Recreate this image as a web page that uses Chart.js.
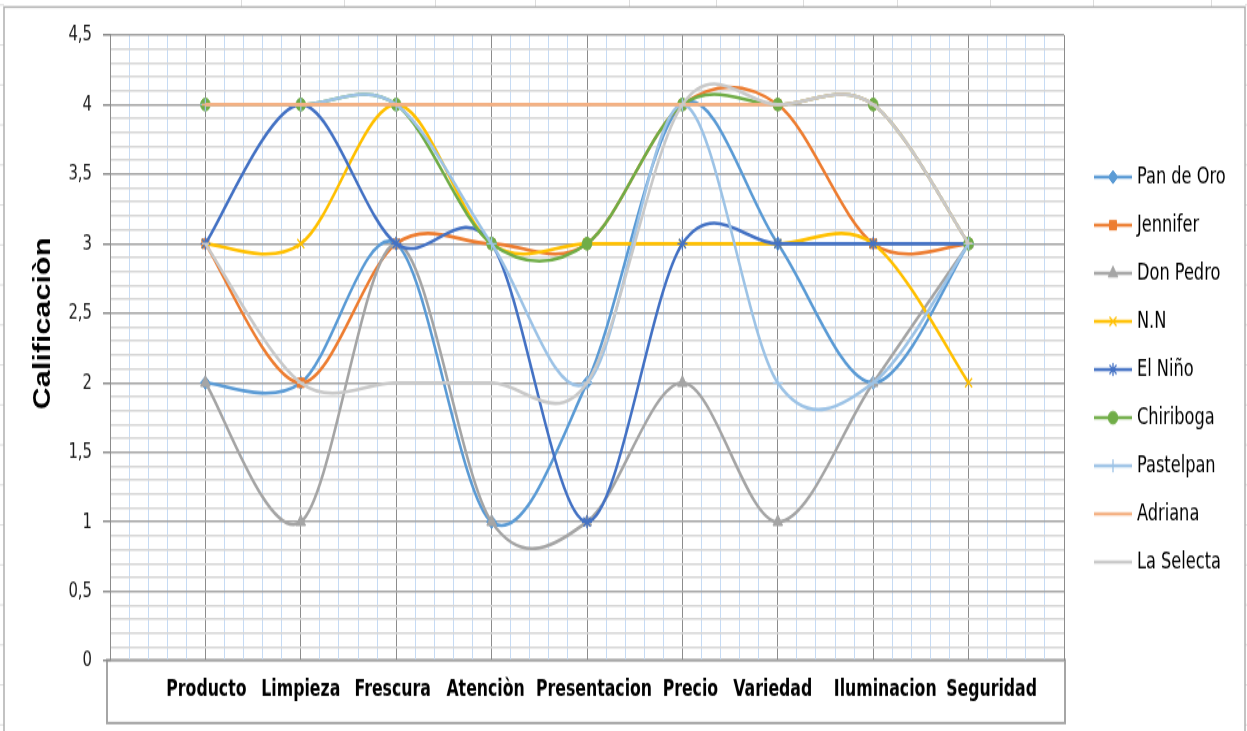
<!DOCTYPE html>
<html>
<head>
<meta charset="utf-8">
<script src="https://cdn.jsdelivr.net/npm/chart.js"></script>
<style>
  html, body { margin: 0; padding: 0; background: #fff; overflow: hidden; }
  canvas { display: block; }
</style>
</head>
<body>
<!-- drawn at 562px and shown at 731px: the sheet export is stretched vertically -->
<canvas id="chart" width="1247" height="562" style="width:1247px;height:731px"></canvas>
<script>
const categories = ['Producto', 'Limpieza', 'Frescura', 'Atenciòn', 'Presentacion', 'Precio', 'Variedad', 'Iluminacion', 'Seguridad'];
const seriesNames = ['Pan de Oro', 'Jennifer', 'Don Pedro', 'N.N', 'El Niño', 'Chiriboga', 'Pastelpan', 'Adriana', 'La Selecta'];

const panDeOro  = [2, 2, 3, 1, 2, 4, 3, 2, 3];
const jennifer  = [3, 2, 3, 3, 3, 4, 4, 3, 3];
const donPedro  = [2, 1, 3, 1, 1, 2, 1, 2, 3];
const nn        = [3, 3, 4, 3, 3, 3, 3, 3, 2];
const elNino    = [3, 4, 3, 3, 1, 3, 3, 3, 3];
const chiriboga = [4, 4, 4, 3, 3, 4, 4, 4, 3];
const pastelpan = [4, 4, 4, 3, 2, 4, 2, 2, 3];
const adriana   = [4, 4, 4, 4, 4, 4, 4, 4, 3];
const laSelecta = [3, 2, 2, 2, 2, 4, 4, 4, 3];

const yTicks = [0, 0.5, 1, 1.5, 2, 2.5, 3, 3.5, 4, 4.5];
const yTitle = 'Calificaciòn';

const seriesValues = [panDeOro, jennifer, donPedro, nn, elNino, chiriboga, pastelpan, adriana, laSelecta];

const palette = ['#5b9bd5', '#ed7d31', '#a5a5a5', '#ffc000', '#4472c4', '#70ad47', '#9dc3e6', '#f4b183', '#c9c9c9'];
const markers = ['rectRot', 'rect', 'triangle', 'crossRot', 'star', 'circle', 'cross', 'line', 'line'];
const markerSize = [5, 5, 5.5, 5, 5, 4.8, 5, 3.5, 3.5];
const markerBorder = [1, 1, 1, 1.3, 1.3, 1, 1.3, 1.5, 1.5];
// category names sit in a typed text box, so they drift a little off the gridlines
const labelShift = [1, 0, -3.5, -6, 7, 8, -5, 12, 23];

const narrow = '"Liberation Sans Narrow", "DejaVu Sans Condensed", "Liberation Sans", sans-serif';
const legendFontSize = 18;
const legendPad = 19;
const plotRight = 1064;

// legend geometry: line from 1094 to 1132, marker at 1113, text from 1137
const legX0 = plotRight + legendPad;
const legBox = 1137 - legendFontSize / 2 - legX0;
const legCx = legX0 + legBox / 2;
const iconW = 2 * (1132 - legCx);
const iconLeft = legCx - iconW / 2;

//--- Legend icons: a short line with the series marker in the middle.
function legendIcon(i) {
  const c = document.createElement('canvas');
  c.width = Math.ceil(iconW);
  c.height = 16;
  const g = c.getContext('2d');
  g.strokeStyle = palette[i];
  g.fillStyle = palette[i];
  g.lineWidth = 2.5;
  g.beginPath();
  g.moveTo(1094 - iconLeft, 8);
  g.lineTo(1132 - iconLeft, 8);
  g.stroke();
  g.lineWidth = markerBorder[i];
  Chart.helpers.drawPoint(g, { pointStyle: markers[i], radius: markerSize[i], borderWidth: markerBorder[i], rotation: 0 }, 1113 - iconLeft, 8);
  return c;
}

// right padding so the legend box starts exactly where the plot ends
const measure = document.createElement('canvas').getContext('2d');
measure.font = legendFontSize + 'px ' + narrow;
const longest = Math.max(...seriesNames.map(n => measure.measureText(n).width));
const legendWidth = legendPad + legBox + legendFontSize / 2 + longest + 10;
const padRight = 1247 - plotRight - legendWidth;

const isHalf = v => Math.abs(v * 2 - Math.round(v * 2)) < 1e-6;
const isWhole = v => Math.abs(v - Math.round(v)) < 1e-6;

//--- Excel-like smoothing: Catmull-Rom control points at 1/6 of the neighbour span.
const excelSmooth = {
  id: 'excelSmooth',
  beforeDatasetDraw(chart, args) {
    const meta = args.meta;
    const pts = meta.data;
    pts.forEach((pt, i) => {
      const prev = pts[i - 1] || pt;
      const next = pts[i + 1] || pt;
      const dx = (next.x - prev.x) / 6;
      const dy = (next.y - prev.y) / 6;
      pt.cp1x = pt.x - dx;
      pt.cp1y = pt.y - dy;
      pt.cp2x = pt.x + dx;
      pt.cp2y = pt.y + dy;
    });
    meta.dataset._pointsUpdated = true;
  }
};

//--- Nudge the category labels sideways.
const shiftLabels = {
  id: 'shiftLabels',
  beforeDraw(chart) {
    const scale = chart.scales.x;
    scale.getLabelItems(chart.chartArea).forEach(item => {
      const idx = categories.indexOf(item.label);
      if (idx >= 0 && !item._shifted) {
        item.options.translation[0] += labelShift[idx];
        item._shifted = true;
      }
    });
  }
};

//--- Worksheet behind the chart, chart frame and the category box.
const sheet = {
  id: 'sheet',
  beforeDraw(chart, args, opts) {
    const { ctx, width, height } = chart;
    ctx.save();
    ctx.fillStyle = '#fff';
    ctx.fillRect(0, 0, width, height);

    ctx.strokeStyle = '#dcdcdc';
    ctx.lineWidth = 1;
    opts.cellCols.forEach(x => {
      ctx.beginPath();
      ctx.moveTo(x + 0.5, 0);
      ctx.lineTo(x + 0.5, opts.frame.top);
      ctx.stroke();
    });
    for (let y = opts.rowStart; y < height; y += opts.rowStep) {
      ctx.beginPath();
      ctx.moveTo(0, y);
      ctx.lineTo(opts.frame.left, y);
      ctx.moveTo(opts.frame.right, y);
      ctx.lineTo(width, y);
      ctx.stroke();
    }

    ctx.strokeStyle = '#b0b0b0';
    ctx.lineWidth = 1.5;
    ctx.strokeRect(opts.frame.left, opts.frame.top, opts.frame.right - opts.frame.left, height);

    const b = opts.box;
    ctx.fillStyle = '#fff';
    ctx.fillRect(b.left, b.top, b.right - b.left, b.bottom - b.top);
    ctx.strokeStyle = '#a6a6a6';
    ctx.lineWidth = 2;
    ctx.strokeRect(b.left, b.top, b.right - b.left, b.bottom - b.top);
    ctx.restore();
  }
};

//--- Rotated y axis title.
const axisTitle = {
  id: 'axisTitle',
  afterDraw(chart, args, opts) {
    const { ctx } = chart;
    ctx.save();
    ctx.translate(opts.x, opts.y);
    ctx.rotate(-Math.PI / 2);
    ctx.font = opts.font;
    ctx.fillStyle = '#000';
    ctx.textAlign = 'center';
    ctx.textBaseline = 'alphabetic';
    ctx.fillText(opts.text, 0, 0);
    ctx.restore();
  }
};

const icons = seriesNames.map((n, i) => legendIcon(i));

const datasets = seriesNames.map((name, i) => ({
  label: name,
  data: categories.map((c, j) => ({ x: j, y: seriesValues[i][j] })),
  borderColor: palette[i],
  backgroundColor: palette[i],
  borderWidth: 2.6,
  borderJoinStyle: 'round',
  tension: 0.4,
  pointStyle: markers[i],
  pointRadius: markerSize[i],
  pointHoverRadius: markerSize[i],
  pointBorderWidth: markerBorder[i],
  order: -i
}));

new Chart(document.getElementById('chart'), {
  type: 'line',
  data: { datasets },
  options: {
    responsive: false,
    animation: false,
    devicePixelRatio: 1,
    events: [],
    layout: {
      padding: { top: 26.9, bottom: 20.7, left: 0, right: padRight }
    },
    scales: {
      x: {
        type: 'linear',
        min: -1,
        max: 9,
        afterFit(scale) { scale.height = 33.1; },
        border: { display: false },
        grid: {
          drawTicks: false,
          lineWidth: 1,
          color: c => isWhole(c.tick.value) ? '#8c8c8c' : '#c6dbf4'
        },
        ticks: {
          stepSize: 0.2,
          autoSkip: false,
          maxRotation: 0,
          minRotation: 0,
          padding: 11.8,
          color: '#000',
          font: { family: narrow, size: 17.5, weight: 'bold' },
          callback: v => (isWhole(v) && v > -0.5 && v < categories.length - 0.5) ? categories[Math.round(v)] : ''
        }
      },
      y: {
        min: 0,
        max: 4.5,
        afterFit(scale) { scale.width = 110; },
        border: { display: true, color: '#8c8c8c', width: 1 },
        grid: {
          tickLength: 7,
          lineWidth: 1.5,
          color: c => isHalf(c.tick.value) ? '#a3a3a3' : '#d6d6d6',
          tickColor: c => isHalf(c.tick.value) ? '#8c8c8c' : 'rgba(0,0,0,0)'
        },
        ticks: {
          stepSize: 0.1,
          autoSkip: false,
          padding: 11,
          color: '#1a1a1a',
          font: { family: narrow, size: 16.5 },
          callback: v => yTicks.some(t => Math.abs(t - v) < 1e-6) ? String(Math.round(v * 10) / 10).replace('.', ',') : ''
        }
      }
    },
    plugins: {
      tooltip: { enabled: false },
      legend: {
        position: 'right',
        labels: {
          usePointStyle: true,
          pointStyleWidth: legBox,
          padding: legendPad,
          color: '#000',
          font: { family: narrow, size: legendFontSize },
          sort: (a, b) => a.datasetIndex - b.datasetIndex,
          generateLabels: chart => Chart.defaults.plugins.legend.labels.generateLabels(chart)
            .map(item => Object.assign(item, { pointStyle: icons[item.datasetIndex], lineWidth: 0 }))
        }
      },
      sheet: {
        frame: { left: 4, top: 5.4, right: 1245 },
        box: { left: 107, top: 507.4, right: 1065, bottom: 555.9 },
        cellCols: [241, 344, 435, 535, 629, 716, 803, 897, 990, 1093, 1211],
        rowStart: 3.8,
        rowStep: 30.75
      },
      axisTitle: {
        text: yTitle,
        x: 50,
        y: 248.7,
        font: 'bold 23.5px "Liberation Sans", Arial, sans-serif'
      }
    }
  },
  plugins: [sheet, shiftLabels, excelSmooth, axisTitle]
});
</script>
</body>
</html>
